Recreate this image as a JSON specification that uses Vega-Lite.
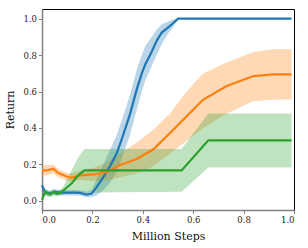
{
  "$schema": "https://vega.github.io/schema/vega-lite/v6.json",
  "width": 252,
  "height": 201,
  "autosize": {"type": "none"},
  "padding": {"left": 42, "top": 9, "right": 14, "bottom": 38},
  "config": {
    "view": {"stroke": "#000000", "strokeWidth": 1},
    "font": "DejaVu Serif",
    "axis": {
      "domainColor": "#808080",
      "domainWidth": 1.5,
      "tickColor": "#808080",
      "tickSize": 3.5,
      "tickWidth": 1,
      "labelFont": "DejaVu Serif",
      "labelFontSize": 8.5,
      "labelColor": "#222222",
      "labelPadding": 2,
      "titleFont": "DejaVu Serif",
      "titleFontSize": 11,
      "titleFontWeight": "normal",
      "titleColor": "#111111",
      "grid": false
    }
  },
  "data": {
    "values": [
      {"algo": "A", "step": 0.0, "ret": 0.085, "lo": 0.06, "hi": 0.11},
      {"algo": "A", "step": 0.012, "ret": 0.048, "lo": 0.03, "hi": 0.065},
      {"algo": "A", "step": 0.03, "ret": 0.04, "lo": 0.025, "hi": 0.055},
      {"algo": "A", "step": 0.05, "ret": 0.05, "lo": 0.035, "hi": 0.065},
      {"algo": "A", "step": 0.07, "ret": 0.045, "lo": 0.03, "hi": 0.06},
      {"algo": "A", "step": 0.1, "ret": 0.045, "lo": 0.03, "hi": 0.06},
      {"algo": "A", "step": 0.13, "ret": 0.045, "lo": 0.03, "hi": 0.06},
      {"algo": "A", "step": 0.15, "ret": 0.044, "lo": 0.03, "hi": 0.058},
      {"algo": "A", "step": 0.177, "ret": 0.035, "lo": 0.02, "hi": 0.05},
      {"algo": "A", "step": 0.197, "ret": 0.04, "lo": 0.02, "hi": 0.06},
      {"algo": "A", "step": 0.217, "ret": 0.075, "lo": 0.03, "hi": 0.12},
      {"algo": "A", "step": 0.243, "ret": 0.13, "lo": 0.06, "hi": 0.2},
      {"algo": "A", "step": 0.27, "ret": 0.19, "lo": 0.1, "hi": 0.28},
      {"algo": "A", "step": 0.296, "ret": 0.26, "lo": 0.16, "hi": 0.36},
      {"algo": "A", "step": 0.316, "ret": 0.336, "lo": 0.23, "hi": 0.44},
      {"algo": "A", "step": 0.349, "ret": 0.475, "lo": 0.36, "hi": 0.58},
      {"algo": "A", "step": 0.376, "ret": 0.612, "lo": 0.5, "hi": 0.72},
      {"algo": "A", "step": 0.396, "ret": 0.7, "lo": 0.6, "hi": 0.8},
      {"algo": "A", "step": 0.41, "ret": 0.75, "lo": 0.66, "hi": 0.85},
      {"algo": "A", "step": 0.429, "ret": 0.8, "lo": 0.72, "hi": 0.887},
      {"algo": "A", "step": 0.455, "ret": 0.878, "lo": 0.8, "hi": 0.94},
      {"algo": "A", "step": 0.475, "ret": 0.924, "lo": 0.86, "hi": 0.97},
      {"algo": "A", "step": 0.501, "ret": 0.952, "lo": 0.92, "hi": 0.985},
      {"algo": "A", "step": 0.52, "ret": 0.975, "lo": 0.952, "hi": 0.995},
      {"algo": "A", "step": 0.54, "ret": 1.0, "lo": 1.0, "hi": 1.0},
      {"algo": "A", "step": 0.99, "ret": 1.0, "lo": 1.0, "hi": 1.0},

      {"algo": "B", "step": 0.0, "ret": 0.167, "lo": 0.14, "hi": 0.195},
      {"algo": "B", "step": 0.016, "ret": 0.167, "lo": 0.14, "hi": 0.195},
      {"algo": "B", "step": 0.045, "ret": 0.176, "lo": 0.15, "hi": 0.2},
      {"algo": "B", "step": 0.065, "ret": 0.153, "lo": 0.13, "hi": 0.175},
      {"algo": "B", "step": 0.098, "ret": 0.134, "lo": 0.11, "hi": 0.155},
      {"algo": "B", "step": 0.118, "ret": 0.127, "lo": 0.105, "hi": 0.15},
      {"algo": "B", "step": 0.151, "ret": 0.14, "lo": 0.115, "hi": 0.165},
      {"algo": "B", "step": 0.204, "ret": 0.145, "lo": 0.11, "hi": 0.18},
      {"algo": "B", "step": 0.257, "ret": 0.158, "lo": 0.11, "hi": 0.21},
      {"algo": "B", "step": 0.31, "ret": 0.197, "lo": 0.13, "hi": 0.26},
      {"algo": "B", "step": 0.376, "ret": 0.23, "lo": 0.15, "hi": 0.32},
      {"algo": "B", "step": 0.442, "ret": 0.283, "lo": 0.19, "hi": 0.39},
      {"algo": "B", "step": 0.508, "ret": 0.373, "lo": 0.26, "hi": 0.48},
      {"algo": "B", "step": 0.574, "ret": 0.464, "lo": 0.33, "hi": 0.6},
      {"algo": "B", "step": 0.64, "ret": 0.556, "lo": 0.4, "hi": 0.7},
      {"algo": "B", "step": 0.733, "ret": 0.63, "lo": 0.48, "hi": 0.76},
      {"algo": "B", "step": 0.839, "ret": 0.685, "lo": 0.547, "hi": 0.817},
      {"algo": "B", "step": 0.918, "ret": 0.694, "lo": 0.555, "hi": 0.832},
      {"algo": "B", "step": 0.99, "ret": 0.694, "lo": 0.556, "hi": 0.832},

      {"algo": "C", "step": 0.0, "ret": 0.005, "lo": 0.0, "hi": 0.01},
      {"algo": "C", "step": 0.012, "ret": 0.05, "lo": 0.03, "hi": 0.065},
      {"algo": "C", "step": 0.032, "ret": 0.035, "lo": 0.02, "hi": 0.05},
      {"algo": "C", "step": 0.045, "ret": 0.048, "lo": 0.03, "hi": 0.065},
      {"algo": "C", "step": 0.058, "ret": 0.039, "lo": 0.025, "hi": 0.055},
      {"algo": "C", "step": 0.071, "ret": 0.044, "lo": 0.03, "hi": 0.06},
      {"algo": "C", "step": 0.085, "ret": 0.057, "lo": 0.035, "hi": 0.08},
      {"algo": "C", "step": 0.118, "ret": 0.097, "lo": 0.04, "hi": 0.17},
      {"algo": "C", "step": 0.144, "ret": 0.14, "lo": 0.045, "hi": 0.24},
      {"algo": "C", "step": 0.168, "ret": 0.167, "lo": 0.045, "hi": 0.285},
      {"algo": "C", "step": 0.3, "ret": 0.167, "lo": 0.047, "hi": 0.285},
      {"algo": "C", "step": 0.554, "ret": 0.167, "lo": 0.05, "hi": 0.285},
      {"algo": "C", "step": 0.66, "ret": 0.332, "lo": 0.183, "hi": 0.479},
      {"algo": "C", "step": 0.99, "ret": 0.332, "lo": 0.183, "hi": 0.479}
    ]
  },
  "encoding": {
    "x": {
      "field": "step",
      "type": "quantitative",
      "scale": {"domain": [0, 1], "nice": false, "zero": false},
      "axis": {"title": "Million Steps", "values": [0, 0.2, 0.4, 0.6, 0.8, 1.0], "format": ".1f", "titlePadding": 6}
    },
    "color": {
      "field": "algo",
      "type": "nominal",
      "scale": {"domain": ["A", "B", "C"], "range": ["#1f77b4", "#ff7f0e", "#2ca02c"]},
      "legend": null
    }
  },
  "layer": [
    {
      "mark": {"type": "area", "opacity": 0.3},
      "encoding": {
        "y": {
          "field": "lo",
          "type": "quantitative",
          "scale": {"domain": [-0.05, 1.053], "nice": false, "zero": false},
          "axis": {"title": "Return", "values": [0, 0.2, 0.4, 0.6, 0.8, 1.0], "format": ".1f", "titlePadding": 7}
        },
        "y2": {"field": "hi"}
      }
    },
    {
      "mark": {"type": "line", "strokeWidth": 2.2},
      "encoding": {
        "y": {"field": "ret", "type": "quantitative"}
      }
    }
  ]
}
